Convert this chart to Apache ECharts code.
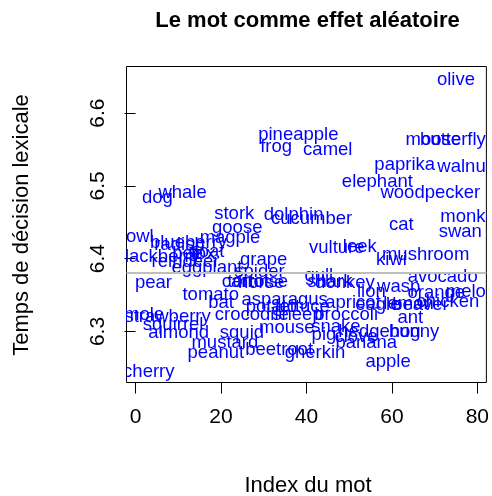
<!DOCTYPE html>
<html>
<head>
<meta charset="utf-8">
<script src="https://cdn.jsdelivr.net/npm/echarts@6/dist/echarts.min.js"></script>
<style>
  html, body { margin: 0; padding: 0; background: #fff; }
  #chart { width: 492px; height: 496px; }
</style>
</head>
<body>
<div id="chart"></div>
<script>
// mots, index et temps de décision moyen (log RT)
const words = [
  'olive', 'moose', 'butterfly', 'paprika', 'walnut', 'elephant', 'woodpecker', 'monkey', 'swan', 'cat',
  'mushroom', 'kiwi', 'leek', 'vulture', 'avocado', 'wasp', 'lion', 'donkey', 'shark', 'gull',
  'pineapple', 'frog', 'camel', 'dolphin', 'cucumber', 'stork', 'goose', 'magpie', 'owl', 'blackberry',
  'radish', 'blueberry', 'bee', 'goat', 'fox', 'reindeer', 'eggplant', 'grape', 'spider', 'carrot',
  'tortoise', 'horse', 'pear', 'tomato', 'bat', 'asparagus', 'potato', 'lettuce', 'apricot', 'eagle',
  'beaver', 'lemon', 'orange', 'melon', 'chicken', 'crocodile', 'sheep', 'broccoli', 'ant', 'squid',
  'almond', 'squirrel', 'strawberry', 'mole', 'cherry', 'mustard', 'peanut', 'beetroot', 'gherkin', 'mouse',
  'snake', 'pig', 'clove', 'hedgehog', 'bunny', 'banana', 'apple', 'whale', 'dog',
];
const wordIndex = [
  75.0, 69.7, 74.3, 63.0, 76.9, 56.6, 69.0, 78.9, 76.0, 62.2,
  67.9, 59.9, 52.5, 47.1, 71.9, 61.6, 55.2, 49.0, 45.5, 42.9,
  38.1, 32.9, 45.0, 37.0, 41.2, 23.1, 23.8, 22.1, 1.0, 5.1,
  10.3, 12.4, 12.2, 16.6, 15.8, 11.7, 16.7, 30.0, 29.0, 25.7,
  28.6, 29.4, 4.2, 17.6, 20.0, 34.9, 31.8, 39.1, 50.9, 56.7,
  66.7, 63.9, 70.4, 78.5, 73.1, 27.2, 37.9, 49.3, 64.3, 24.9,
  10.1, 8.8, 7.5, 2.0, 3.1, 20.9, 18.8, 33.6, 42.0, 35.4,
  46.9, 44.1, 51.6, 57.1, 65.2, 54.0, 59.1, 11.0, 5.1,
];
const meanRt = [
  6.646, 6.563, 6.563, 6.529, 6.526, 6.506, 6.490, 6.457, 6.437, 6.446,
  6.405, 6.398, 6.416, 6.415, 6.375, 6.361, 6.354, 6.367, 6.368, 6.377,
  6.570, 6.554, 6.550, 6.460, 6.455, 6.461, 6.442, 6.428, 6.430, 6.402,
  6.419, 6.422, 6.406, 6.409, 6.407, 6.395, 6.387, 6.398, 6.382, 6.368,
  6.368, 6.367, 6.367, 6.350, 6.339, 6.343, 6.334, 6.334, 6.339, 6.336,
  6.336, 6.338, 6.353, 6.354, 6.340, 6.323, 6.323, 6.323, 6.318, 6.298,
  6.298, 6.309, 6.320, 6.323, 6.244, 6.284, 6.270, 6.274, 6.270, 6.305,
  6.306, 6.295, 6.292, 6.299, 6.299, 6.284, 6.258, 6.490, 6.483,
];
const grandMean = 6.3845;
const xTicks = [0, 20, 40, 60, 80];
const yTicks = [6.3, 6.4, 6.5, 6.6];

const FONT = '"Liberation Sans", Arial, Helvetica, sans-serif';

const chart = echarts.init(document.getElementById('chart'), null, { renderer: 'canvas' });

chart.setOption({
  animation: false,
  backgroundColor: '#ffffff',
  grid: {
    left: 126.5,
    right: 4,
    top: 66.5,
    bottom: 113.5,
    show: true,
    borderColor: '#000',
    borderWidth: 1,
    backgroundColor: 'transparent',
  },
  xAxis: {
    type: 'value',
    min: -2.12,
    max: 82.12,
    axisLine: { show: false },
    splitLine: { show: false },
    axisTick: {
      show: true,
      customValues: xTicks,
      length: 11,
      lineStyle: { color: '#000', width: 1 },
    },
    axisLabel: {
      customValues: xTicks,
      margin: 24,
      fontSize: 21,
      fontFamily: FONT,
      color: '#000',
    },
  },
  yAxis: {
    type: 'value',
    min: 6.2299,
    max: 6.664,
    axisLine: { show: false },
    splitLine: { show: false },
    axisTick: {
      show: true,
      customValues: yTicks,
      length: 11,
      lineStyle: { color: '#000', width: 1 },
    },
    axisLabel: {
      customValues: yTicks,
      rotate: 90,
      margin: 18,
      fontSize: 21,
      fontFamily: FONT,
      color: '#000',
      formatter: (v) => v.toFixed(1),
    },
  },
  graphic: [
    {
      type: 'text',
      x: 307.5,
      y: 21,
      style: {
        text: 'Le mot comme effet aléatoire',
        fontSize: 22,
        fontWeight: 'bold',
        fontFamily: FONT,
        fill: '#000',
        align: 'center',
        verticalAlign: 'middle',
      },
    },
    {
      type: 'text',
      x: 308,
      y: 486,
      style: {
        text: 'Index du mot',
        fontSize: 22,
        fontFamily: FONT,
        fill: '#000',
        align: 'center',
        verticalAlign: 'middle',
      },
    },
    {
      type: 'text',
      x: 22,
      y: 225,
      rotation: Math.PI / 2,
      style: {
        text: 'Temps de décision lexicale',
        fontSize: 22,
        fontFamily: FONT,
        fill: '#000',
        align: 'center',
        verticalAlign: 'middle',
      },
    },
  ],
  series: [
    {
      type: 'custom',
      clip: true,
      data: words.map((w, i) => [wordIndex[i], meanRt[i]]),
      renderItem: (params, api) => {
        const p = api.coord([api.value(0), api.value(1)]);
        return {
          type: 'text',
          x: p[0],
          y: p[1],
          style: {
            text: words[params.dataIndex],
            fill: '#0000ff',
            fontSize: 18.5,
            fontFamily: FONT,
            align: 'center',
            verticalAlign: 'middle',
          },
        };
      },
      markLine: {
        silent: true,
        symbol: ['none', 'none'],
        label: { show: false },
        lineStyle: { color: '#bebebe', width: 2, type: 'solid' },
        data: [{ yAxis: grandMean }],
      },
    },
  ],
});
</script>
</body>
</html>
